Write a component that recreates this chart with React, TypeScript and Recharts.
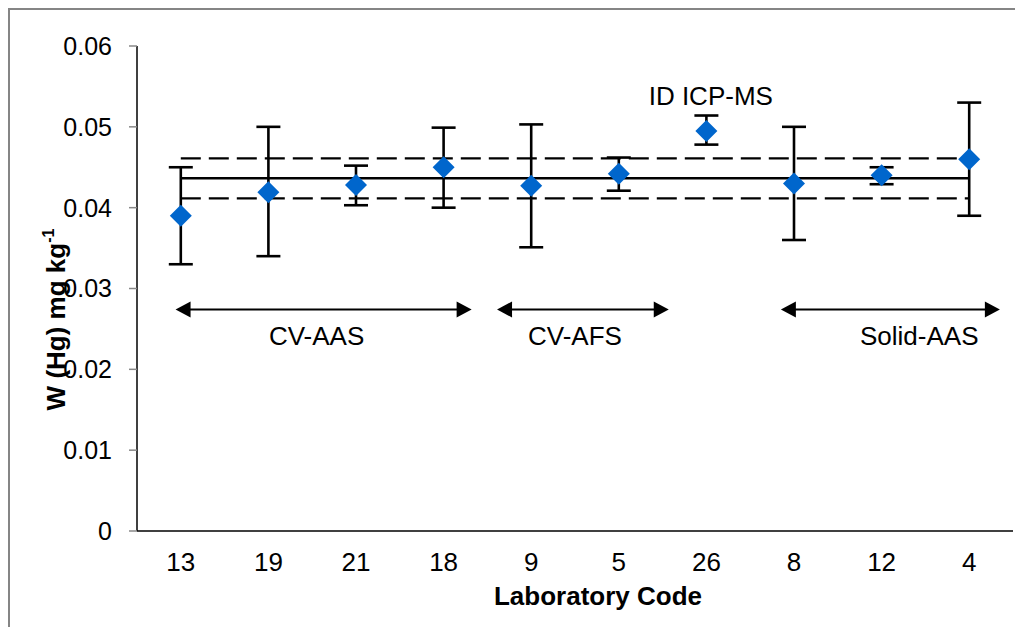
import React from 'react';
import {
  ComposedChart,
  Scatter,
  ErrorBar,
  XAxis,
  YAxis,
  ReferenceLine,
  ReferenceDot,
} from 'recharts';

// laboratory codes, in plotting order
const labs = ['13', '19', '21', '18', '9', '5', '26', '8', '12', '4'];
const results = [0.039, 0.0419, 0.0428, 0.045, 0.0427, 0.0442, 0.0495, 0.043, 0.044, 0.046];
const lower = [0.033, 0.034, 0.0403, 0.04, 0.0351, 0.0421, 0.0478, 0.036, 0.0429, 0.039];
const upper = [0.045, 0.05, 0.0452, 0.0499, 0.0503, 0.0462, 0.0514, 0.05, 0.045, 0.053];

// reference value and its uncertainty band
const refValue = 0.04364;
const refHigh = 0.0461;
const refLow = 0.04116;

const yTicks = [0, 0.01, 0.02, 0.03, 0.04, 0.05, 0.06];
const boundTicks = [0, 1, 2, 3, 4, 5, 6, 7, 8, 9, 10];
const labelTicks = labs.map((_, i) => i + 0.5);

// method groups: [from, to] in category units, and label position
const groups = [
  { name: 'CV-AAS', from: 0.44, to: 3.82, labelX: 2.05 },
  { name: 'CV-AFS', from: 4.11, to: 6.07, labelX: 5.0 },
  { name: 'Solid-AAS', from: 7.35, to: 9.85, labelX: 8.93 },
];
const arrowY = 0.0274;
const groupLabelY = 0.0241;
const idNote = { name: 'ID ICP-MS', x: 6.55, y: 0.0539 };

const rows = labs.map((lab, i) => ({
  x: i + 0.5,
  lab,
  value: results[i],
  err: [results[i] - lower[i], upper[i] - results[i]],
}));

const FONT = '"Liberation Sans", Arial, sans-serif';

const Diamond = (props: any) => {
  const { cx, cy } = props;
  if (cx == null || cy == null) return null;
  const r = 11;
  return (
    <polygon
      points={`${cx},${cy - r} ${cx + r},${cy} ${cx},${cy + r} ${cx - r},${cy}`}
      fill="#0066CC"
    />
  );
};

const DoubleArrow = (props: any) => {
  const { x1, y1, x2 } = props;
  const len = 15;
  const half = 8;
  return (
    <g>
      <line x1={x1 + len - 2} y1={y1} x2={x2 - len + 2} y2={y1} stroke="#000" strokeWidth={2} />
      <polygon points={`${x1},${y1} ${x1 + len},${y1 - half} ${x1 + len},${y1 + half}`} fill="#000" />
      <polygon points={`${x2},${y1} ${x2 - len},${y1 - half} ${x2 - len},${y1 + half}`} fill="#000" />
    </g>
  );
};

const YTitle = (props: any) => {
  const { viewBox } = props;
  const x = viewBox.x + 35;
  const y = viewBox.y + viewBox.height / 2 + 31;
  return (
    <text
      x={x}
      y={y}
      transform={`rotate(-90, ${x}, ${y})`}
      textAnchor="middle"
      fontFamily={FONT}
      fontWeight="bold"
      fontSize={26}
      fill="#000"
    >
      W (Hg) mg kg
      <tspan fontSize={16} dy={-11}>-1</tspan>
    </text>
  );
};

const XTitle = (props: any) => {
  const { viewBox } = props;
  return (
    <text
      x={viewBox.x + viewBox.width / 2 + 23}
      y={viewBox.y + 74}
      textAnchor="middle"
      fontFamily={FONT}
      fontWeight="bold"
      fontSize={26}
      fill="#000"
    >
      Laboratory Code
    </text>
  );
};

export default function App() {
  return (
    <div
      style={{
        width: 1015,
        height: 619,
        borderTop: '2px solid #858585',
        borderLeft: '2px solid #858585',
        boxSizing: 'border-box',
        background: '#fff',
      }}
    >
      <ComposedChart
        width={1013}
        height={617}
        data={rows}
        margin={{ top: 36, right: 10, left: 20, bottom: 56 }}
        style={{ fontFamily: FONT }}
      >
        <XAxis
          xAxisId="bounds"
          type="number"
          dataKey="x"
          domain={[0, 10]}
          ticks={boundTicks}
          height={0}
          axisLine={false}
          tickSize={8}
          tickLine={{ stroke: '#888', strokeWidth: 1.5 }}
          tickFormatter={() => ''}
        />
        <XAxis
          type="number"
          dataKey="x"
          domain={[0, 10]}
          ticks={labelTicks}
          interval={0}
          height={40}
          axisLine={{ stroke: '#000', strokeWidth: 1.5 }}
          tickLine={false}
          tickSize={8}
          tickMargin={14}
          tick={{ fill: '#000', fontSize: 26, fontFamily: FONT }}
          tickFormatter={(v: number) => labs[Math.floor(v)] ?? ''}
          label={<XTitle />}
        />
        <YAxis
          type="number"
          domain={[0, 0.06]}
          ticks={yTicks}
          interval={0}
          width={107}
          axisLine={{ stroke: '#000', strokeWidth: 1.5 }}
          tickLine={{ stroke: '#888', strokeWidth: 1.5 }}
          tickSize={8}
          tickMargin={17}
          tick={{ fill: '#000', fontSize: 25, fontFamily: FONT }}
          tickFormatter={(v: number) => (v === 0 ? '0' : v.toFixed(2))}
          label={<YTitle />}
        />

        <ReferenceLine
          segment={[{ x: 0.5, y: refHigh }, { x: 9.5, y: refHigh }]}
          stroke="#000"
          strokeWidth={2.3}
          strokeDasharray="20 8"
        />
        <ReferenceLine
          segment={[{ x: 0.5, y: refValue }, { x: 9.5, y: refValue }]}
          stroke="#000"
          strokeWidth={2.3}
        />
        <ReferenceLine
          segment={[{ x: 0.5, y: refLow }, { x: 9.5, y: refLow }]}
          stroke="#000"
          strokeWidth={2.3}
          strokeDasharray="20 8"
        />

        {groups.map((g) => (
          <ReferenceLine
            key={g.name}
            segment={[{ x: g.from, y: arrowY }, { x: g.to, y: arrowY }]}
            shape={(p: any) => <DoubleArrow {...p} />}
          />
        ))}
        {groups.map((g) => (
          <ReferenceDot
            key={g.name + '-label'}
            x={g.labelX}
            y={groupLabelY}
            r={0}
            fill="none"
            stroke="none"
            label={{ value: g.name, position: 'center', fill: '#000', fontSize: 26, fontFamily: FONT }}
          />
        ))}
        <ReferenceDot
          x={idNote.x}
          y={idNote.y}
          r={0}
          fill="none"
          stroke="none"
          label={{ value: idNote.name, position: 'center', fill: '#000', fontSize: 26, fontFamily: FONT }}
        />

        <Scatter dataKey="value" shape={<Diamond />} isAnimationActive={false}>
          <ErrorBar
            dataKey="err"
            direction="y"
            width={12}
            stroke="#000"
            strokeWidth={2.6}
            isAnimationActive={false}
          />
        </Scatter>
      </ComposedChart>
    </div>
  );
}
